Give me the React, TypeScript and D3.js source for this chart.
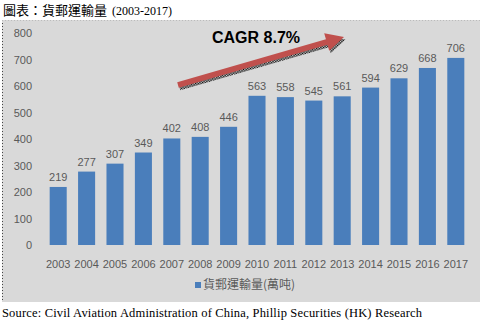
import React from "react";
import * as d3 from "d3";

const years = ["2003","2004","2005","2006","2007","2008","2009","2010","2011","2012","2013","2014","2015","2016","2017"];
const volumes = [219,277,307,349,402,408,446,563,558,545,561,594,629,668,706];
const yTicks = [0,100,200,300,400,500,600,700,800];

export default function App() {
  const W = 485, H = 321;
  const x = d3.scaleBand().domain(years).range([44, 470]).paddingInner(0.4).paddingOuter(0.2);
  const y = d3.scaleLinear().domain([0, 800]).range([245, 33]);
  const font = "'Liberation Sans', Arial, sans-serif";
  const gray = "#595959";
  const ax = 178, ay = 85, bx = 344, by = 37;
  const ang = Math.atan2(by - ay, bx - ax);
  const len = Math.hypot(bx - ax, by - ay);
  const arrow = (dx: number, dy: number, fill: string, op = 1) => {
    const hl = 18, hw = 9, sw = 2.8;
    const pts = [
      [0, -sw], [len - hl, -sw], [len - hl, -hw], [len, 0], [len - hl, hw], [len - hl, sw], [0, sw]
    ];
    return (
      <polygon
        points={pts.map(p => p.join(",")).join(" ")}
        fill={fill}
        opacity={op}
        transform={`translate(${ax + dx},${ay + dy}) rotate(${(ang * 180) / Math.PI})`}
      />
    );
  };
  return (
    <svg width={W} height={H} style={{ position: "absolute", left: 0, top: 0 }}>
      <defs>
        <pattern id="dots" width="2" height="2" patternUnits="userSpaceOnUse">
          <rect width="1" height="1" fill="#000" />
          <rect x="1" y="1" width="1" height="1" fill="#000" />
        </pattern>
      </defs>
      <rect width={W} height={H} fill="#fff" />
      <text x={3} y={15} fontFamily="'Noto Sans CJK TC', sans-serif" fontSize={13} fill="#000">圖表：貨郵運輸量</text>
      <text x={112} y={15} fontFamily="'Liberation Serif', serif" fontSize={12} fill="#000">(2003-2017)</text>
      <rect x={2} y={20} width={478} height={282} fill="#d9d9d9" />
      <line x1={2.5} y1={20} x2={2.5} y2={302} stroke="#444" strokeDasharray="1,2" />
      <line x1={2} y1={20.5} x2={480} y2={20.5} stroke="#bbb" strokeDasharray="1,2" />
      {yTicks.map(t => (
        <text key={t} x={32} y={y(t) + 4} textAnchor="end" fontFamily={font} fontSize={11} fill={gray}>{t}</text>
      ))}
      {years.map((yr, i) => (
        <g key={yr}>
          <rect x={x(yr)} y={y(volumes[i])} width={x.bandwidth()} height={y(0) - y(volumes[i])} fill="#4a7ebb" />
          <text x={x(yr)! + x.bandwidth() / 2} y={y(volumes[i]) - 6} textAnchor="middle" fontFamily={font} fontSize={11} fill={gray}>{volumes[i]}</text>
          <text x={x(yr)! + x.bandwidth() / 2} y={268} textAnchor="middle" fontFamily={font} fontSize={11} fill={gray}>{yr}</text>
        </g>
      ))}
      {arrow(1.5, 2.5, "url(#dots)")}
      {arrow(0, 0, "#c0504d")}
      <text x={212} y={43} fontFamily={font} fontSize={16} fontWeight="bold" fill="#000">CAGR 8.7%</text>
      <rect x={195} y={282} width={6} height={6} fill="#4a7ebb" />
      <text x={203} y={289} fontFamily="'Noto Sans CJK TC', sans-serif" fontSize={12} fill={gray}>貨郵運輸量(萬吨)</text>
      <text x={2} y={317} fontFamily="'Liberation Serif', serif" fontSize={12.5} textLength={420} lengthAdjust="spacing" fill="#000">Source: Civil Aviation Administration of China, Phillip Securities (HK) Research</text>
    </svg>
  );
}
